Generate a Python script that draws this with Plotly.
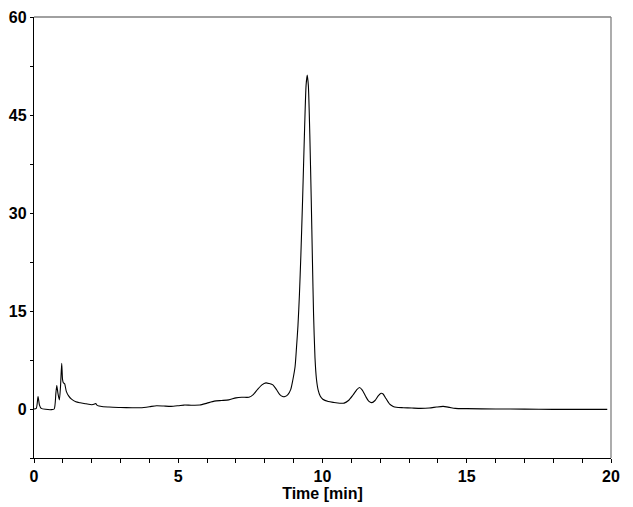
import plotly.graph_objects as go

# Chromatogram trace (time in min, signal)
time_min = [
    0.00, 0.08, 0.14, 0.19, 0.25, 0.40, 0.60, 0.70, 0.76, 0.79, 0.83, 0.88,
    0.92, 0.96, 0.99, 1.02, 1.06, 1.12, 1.20, 1.30, 1.45, 1.60, 1.80, 2.00,
    2.10, 2.14, 2.18, 2.25, 2.40, 2.60, 3.00, 3.40, 3.70, 4.00, 4.25, 4.50,
    4.75, 5.00, 5.20, 5.45, 5.75, 6.00, 6.25, 6.50, 6.75, 7.00, 7.20, 7.45,
    7.60, 7.75, 7.90, 8.04, 8.15, 8.28, 8.40, 8.52, 8.62, 8.70, 8.80, 8.90,
    8.97, 9.05, 9.10, 9.15, 9.20, 9.25, 9.31, 9.38, 9.43, 9.47, 9.51, 9.56,
    9.61, 9.65, 9.69, 9.74, 9.79, 9.85, 9.92, 10.01, 10.20, 10.40, 10.60,
    10.75, 10.90, 11.05, 11.18, 11.28, 11.38, 11.50, 11.60, 11.71, 11.82,
    11.93, 12.03, 12.10, 12.20, 12.32, 12.45, 12.56, 12.80, 13.10, 13.40,
    13.70, 13.95, 14.18, 14.40, 14.60, 15.00, 16.00, 17.00, 18.00, 19.00,
    19.87,
]
signal = [
    0.0, 0.1, 1.9, 0.6, 0.1, -0.05, -0.1, 0.0, 2.5, 3.6, 2.4, 1.4,
    3.5, 7.0, 4.5, 4.0, 3.9, 2.7, 2.0, 1.5, 1.1, 0.95, 0.8, 0.65,
    0.75, 0.85, 0.6, 0.45, 0.35, 0.3, 0.22, 0.2, 0.2, 0.35, 0.5, 0.45,
    0.4, 0.5, 0.6, 0.58, 0.6, 0.9, 1.2, 1.3, 1.4, 1.7, 1.8, 1.8,
    2.2, 3.0, 3.7, 4.0, 3.9, 3.7, 3.0, 2.2, 1.9, 1.9, 2.2, 3.0,
    4.4, 6.5, 9.5, 12.8, 17.5, 23.5, 32.0, 43.0, 49.5, 51.1, 49.5, 42.0,
    32.0, 23.0, 14.5, 7.8, 4.6, 2.9, 2.0, 1.5, 1.15, 1.0, 0.88,
    0.9, 1.3, 2.1, 2.9, 3.3, 2.9, 1.9, 1.2, 0.97, 1.3,
    2.0, 2.4, 2.3, 1.6, 0.8, 0.4, 0.26, 0.2, 0.15, 0.1,
    0.15, 0.3, 0.4, 0.25, 0.1, 0.05, 0.0, -0.02, -0.05, -0.05,
    -0.05,
]

x_tick_vals = [0, 5, 10, 15, 20]
x_tick_text = ["0", "5", "10", "15", "20"]
y_tick_vals = [0, 15, 30, 45, 60]
y_tick_text = ["0", "15", "30", "45", "60"]

FONT = "Liberation Sans, Arial, sans-serif"

fig = go.Figure()
fig.add_trace(go.Scatter(
    x=time_min, y=signal, mode="lines",
    line=dict(color="black", width=1.1, shape="spline", smoothing=0.6),
    showlegend=False, hoverinfo="skip",
))

fig.update_layout(
    width=633, height=507,
    margin=dict(l=34, r=22, t=17, b=49),
    paper_bgcolor="white", plot_bgcolor="white",
    font=dict(family=FONT, size=16, color="black"),
    xaxis=dict(
        range=[0, 20], tickmode="array", tickvals=x_tick_vals, ticktext=x_tick_text,
        automargin=False,
        showgrid=False, zeroline=False, showline=True, linecolor="black", linewidth=1.3,
        ticks="outside", ticklen=4, tickwidth=1, tickcolor="black",
        tickfont=dict(family=FONT, size=16, color="black", weight="bold"),
        minor=dict(dtick=1, ticks="outside", ticklen=4, tickwidth=1, tickcolor="black", showgrid=False),
        title=dict(text="<b>Time [min]</b>", font=dict(family=FONT, size=16, color="black"), standoff=0),
    ),
    yaxis=dict(
        range=[-7.5, 60], tickmode="array", tickvals=y_tick_vals, ticktext=y_tick_text,
        automargin=False,
        showgrid=False, zeroline=False, showline=True, linecolor="black", linewidth=1.3,
        ticks="outside", ticklen=3, tickwidth=1, tickcolor="black",
        tickfont=dict(family=FONT, size=16, color="black", weight="bold"),
        minor=dict(tickvals=[-7.5, 7.5, 22.5, 37.5, 52.5], ticks="outside", ticklen=3,
                   tickwidth=1, tickcolor="black", showgrid=False),
    ),
    shapes=[
        dict(type="line", xref="paper", yref="paper", x0=0, x1=1, y0=1, y1=1,
             line=dict(color="#808080", width=1.3)),
        dict(type="line", xref="paper", yref="paper", x0=1, x1=1, y0=0, y1=1,
             line=dict(color="#808080", width=1.3)),
    ],
)

fig.write_html("out.html")
